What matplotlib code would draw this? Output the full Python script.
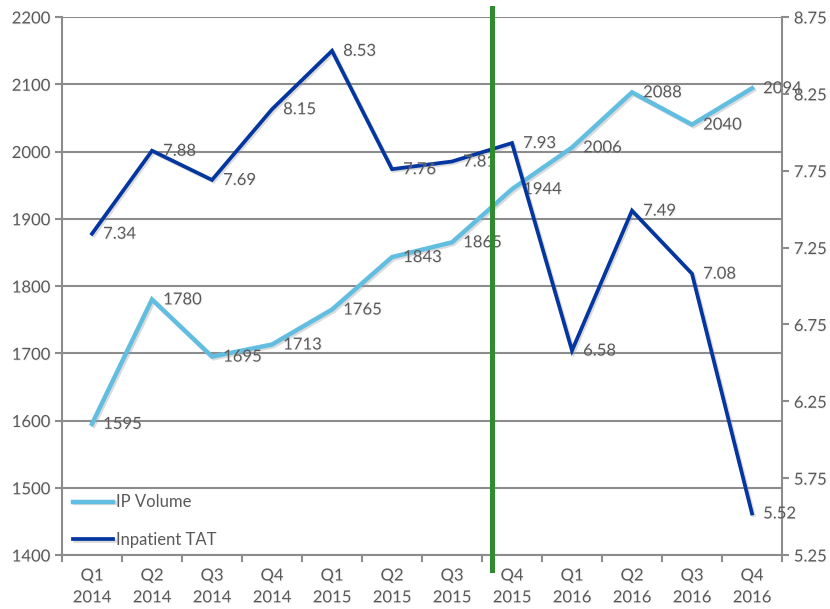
import numpy as np
import matplotlib
matplotlib.use('Agg')
import matplotlib.pyplot as plt
import matplotlib.patheffects as pe

# data
quarters = ['Q1\n2014', 'Q2\n2014', 'Q3\n2014', 'Q4\n2014',
            'Q1\n2015', 'Q2\n2015', 'Q3\n2015', 'Q4\n2015',
            'Q1\n2016', 'Q2\n2016', 'Q3\n2016', 'Q4\n2016']
ip_volume = [1595, 1780, 1695, 1713, 1765, 1843, 1865, 1944, 2006, 2088, 2040, 2094]
inpatient_tat = [7.34, 7.88, 7.69, 8.15, 8.53, 7.76, 7.81, 7.93, 6.58, 7.49, 7.08, 5.52]
marker_pos = 6.66   # green divider, between Q3 and Q4 2015

plt.rcParams['font.family'] = ['Lato', 'DejaVu Sans']
txt = '#595959'
grid = '#8c8c8c'
light = '#62BEE0'
dark = '#0436A0'
fs = 12

fig = plt.figure(figsize=(8.3, 6.09), dpi=100)
ax = fig.add_axes([62/830, 1-555/609, 720/830, 538/609])
ax2 = ax.twinx()

shadow = [pe.SimpleLineShadow(offset=(1.2, -1.2), shadow_color='#999999', alpha=0.35), pe.Normal()]
tshadow = [pe.SimplePatchShadow(offset=(0.7, -0.7), shadow_rgbFace='#cccccc', alpha=0.3), pe.Normal()]

x = np.arange(len(quarters))
l1, = ax.plot(x, ip_volume, color=light, lw=3.2, solid_joinstyle='miter',
              path_effects=shadow, label='IP Volume', zorder=3)
l2, = ax2.plot(x, inpatient_tat, color=dark, lw=2.7, solid_joinstyle='miter',
               path_effects=shadow, label='Inpatient TAT', zorder=3)

# data labels to the right of each point
for i in range(len(x)):
    ax.annotate(str(ip_volume[i]), (x[i], ip_volume[i]), xytext=(8, 0),
                textcoords='offset points', ha='left', va='center',
                fontsize=fs, color=txt, path_effects=tshadow, zorder=4)
    ax2.annotate('%.2f' % inpatient_tat[i], (x[i], inpatient_tat[i]), xytext=(8, 0),
                 textcoords='offset points', ha='left', va='center',
                 fontsize=fs, color=txt, path_effects=tshadow, zorder=4)

ax.set_xlim(-0.5, 11.5)
ax.set_ylim(1400, 2200)
ax2.set_ylim(5.25, 8.75)
ax.set_yticks(np.arange(1400, 2201, 100))
ax2.set_yticks(np.arange(5.25, 8.76, 0.5))
ax2.set_yticklabels(['%.2f' % v for v in np.arange(5.25, 8.76, 0.5)])

ax.set_xticks(np.arange(-0.5, 12, 1))
ax.set_xticklabels([])
ax.set_xticks(x, minor=True)
ax.set_xticklabels(quarters, minor=True, linespacing=1.45)
ax.tick_params(axis='x', which='minor', length=0, pad=9)
ax.tick_params(axis='x', which='major', length=5, width=1.5, color=grid)

ax.yaxis.grid(True, color=grid, lw=1.5)
ax.set_axisbelow(True)
for a in (ax, ax2):
    for s in a.spines.values():
        s.set_visible(False)
    a.tick_params(labelsize=fs, labelcolor=txt, color=grid, width=1.5, length=5)
ax.tick_params(axis='x', which='minor', labelsize=fs, labelcolor=txt)
ax.spines['left'].set_visible(True)
ax.spines['left'].set_color(grid)
ax.spines['left'].set_linewidth(1.5)
ax.spines['bottom'].set_visible(True)
ax.spines['bottom'].set_color(grid)
ax.spines['bottom'].set_linewidth(1.5)
ax2.spines['right'].set_visible(True)
ax2.spines['right'].set_color(grid)
ax2.spines['right'].set_linewidth(1.5)
for t in ax.get_yticklabels() + ax2.get_yticklabels() + ax.get_xticklabels(minor=True):
    t.set_path_effects(tshadow)

ax2.axvline(marker_pos, ymin=-0.028, ymax=1.017, color='#2E8B2E', lw=3.6,
            clip_on=False, zorder=5)

leg = ax2.legend(handles=[l1, l2], loc='lower left', frameon=False, fontsize=fs,
                 handlelength=2.4, handletextpad=0.15, labelspacing=1.3,
                 bbox_to_anchor=(-0.005, -0.015), labelcolor=txt)

fig.savefig('out.png', dpi=100)
